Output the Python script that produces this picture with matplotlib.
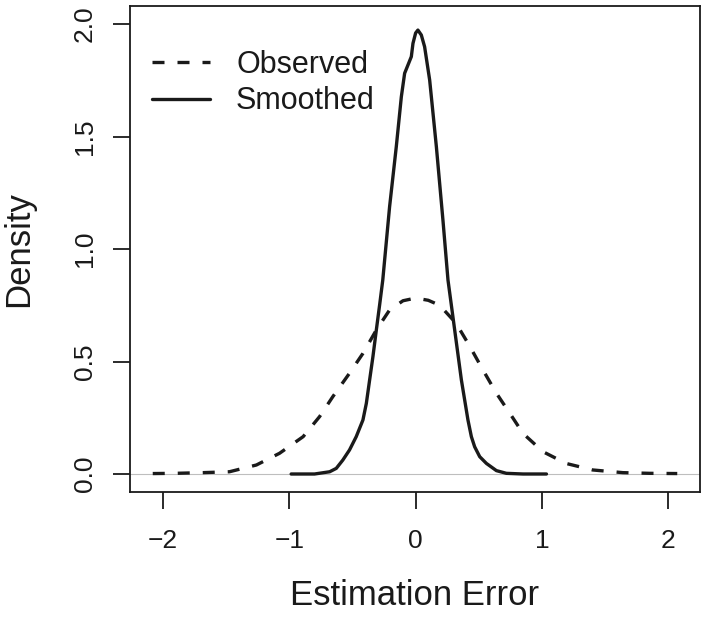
import matplotlib
matplotlib.use("Agg")
import matplotlib.pyplot as plt

# Data
obs_x = [-2.08, -1.90, -1.684, -1.473, -1.26, -1.077, -0.89, -0.76, -0.655, -0.523,
         -0.417, -0.311, -0.206, -0.10, 0.0, 0.10, 0.19, 0.32, 0.43, 0.533,
         0.639, 0.745, 0.85, 1.008, 1.19, 1.40, 1.64, 1.85, 2.07]
obs_y = [0.002, 0.003, 0.006, 0.01, 0.04, 0.092, 0.166, 0.255, 0.344, 0.448,
         0.536, 0.64, 0.729, 0.77, 0.782, 0.772, 0.75, 0.67, 0.566, 0.462,
         0.359, 0.27, 0.18, 0.099, 0.047, 0.018, 0.006, 0.003, 0.002]

smo_x = [-0.985, -0.80, -0.68, -0.628, -0.576, -0.523, -0.47, -0.417, -0.39, -0.364,
         -0.338, -0.311, -0.285, -0.26, -0.206, -0.153, -0.113, -0.087, -0.034, -0.021,
         0.0, 0.018, 0.045, 0.071, 0.111, 0.164, 0.216, 0.256, 0.309, 0.362,
         0.414, 0.441, 0.467, 0.507, 0.56, 0.639, 0.718, 0.85, 1.035]
smo_y = [0.0, 0.0, 0.01, 0.025, 0.062, 0.107, 0.166, 0.24, 0.314, 0.418,
         0.521, 0.64, 0.751, 0.862, 1.188, 1.455, 1.677, 1.781, 1.855, 1.914,
         1.96, 1.973, 1.951, 1.899, 1.751, 1.455, 1.129, 0.862, 0.64, 0.418,
         0.24, 0.166, 0.121, 0.077, 0.047, 0.015, 0.003, 0.0, 0.0]

x_ticks = [-2, -1, 0, 1, 2]
y_ticks = [0.0, 0.5, 1.0, 1.5, 2.0]
labels = ["Observed", "Smoothed"]

plt.rcParams['font.family'] = ['Liberation Sans', 'DejaVu Sans']

fig = plt.figure(figsize=(7.07, 6.17), dpi=100)
ax = fig.add_axes([130/707, 1-492/617, 570/707, 486/617])

ink = '#1a1a1a'
ax.axhline(0, color='#bebebe', lw=0.8, zorder=1)
ax.plot(obs_x, obs_y, color=ink, lw=2.4, linestyle=(0, (3.6, 3.9)), label=labels[0], zorder=2)
ax.plot(smo_x, smo_y, color=ink, lw=2.4, label=labels[1], zorder=3,
        solid_joinstyle='round', solid_capstyle='round')

ax.set_xlim(-2.26, 2.25)
ax.set_ylim(-0.08, 2.08)
ax.set_xticks(x_ticks)
ax.set_xticklabels([f"{v:d}".replace('-', '\u2212') for v in x_ticks])
ax.set_yticks(y_ticks)
ax.set_yticklabels([f"{v:.1f}" for v in y_ticks], rotation=90, va='center')

for s in ax.spines.values():
    s.set_linewidth(1.3)
    s.set_color(ink)
ax.tick_params(direction='out', length=12, width=1.3, color=ink, labelsize=19, pad=12,
               labelcolor=ink)
ax.tick_params(axis='x', pad=15)

ax.set_xlabel("Estimation Error", fontsize=25, color=ink)
ax.set_ylabel("Density", fontsize=25, color=ink)
ax.xaxis.set_label_coords(0.5, -0.178)
ax.yaxis.set_label_coords(-0.167, 0.5)

leg = ax.legend(loc='upper left', bbox_to_anchor=(0.0386, 0.91), frameon=False,
                fontsize=22, handlelength=1.9, handletextpad=0.85, labelspacing=0.22,
                borderpad=0, borderaxespad=0)
for t in leg.get_texts():
    t.set_color(ink)

fig.savefig("out.png", dpi=100)
